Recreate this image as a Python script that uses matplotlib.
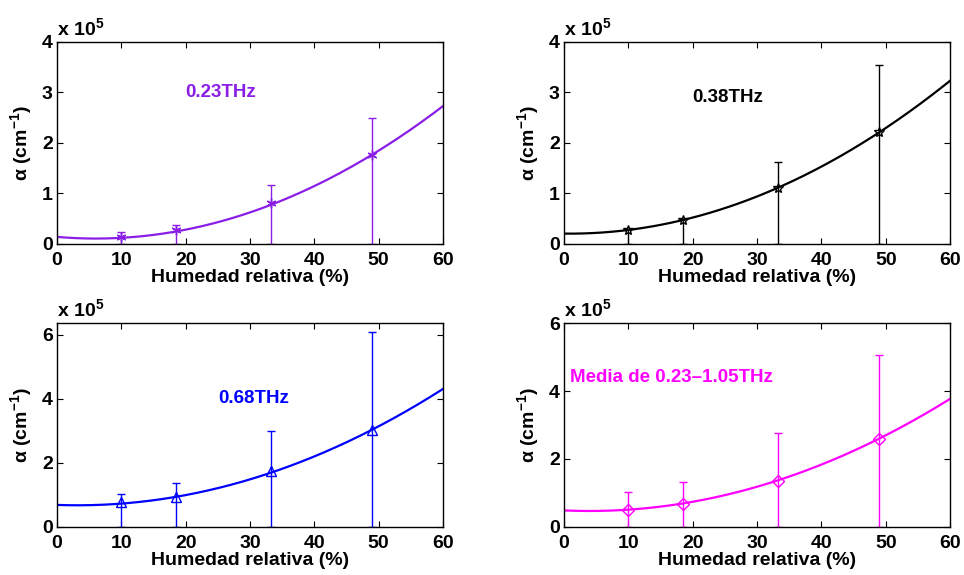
import numpy as np
from matplotlib import pyplot as plt

plt.rcParams['font.family'] = ['Liberation Sans', 'DejaVu Sans']
plt.rcParams['font.weight'] = 'bold'
plt.rcParams['mathtext.default'] = 'regular'

# humedad relativa de las medidas (%)
hr = [10, 18.5, 33.3, 49]

# coeficiente de absorcion medio (x 1e5 cm^-1) y error superior
a_023 = [0.14, 0.27, 0.81, 1.77]
e_023 = [0.09, 0.11, 0.36, 0.72]
a_038 = [0.27, 0.475, 1.10, 2.21]
e_038 = [0.02, 0.015, 0.52, 1.34]
a_068 = [0.76, 0.92, 1.74, 3.03]
e_068 = [0.26, 0.45, 1.24, 3.05]
a_med = [0.48, 0.66, 1.36, 2.60]
e_med = [0.53, 0.67, 1.40, 2.47]

# ajuste cuadratico c0 + c1*x + c2*x^2
p_023 = [0.14, -0.01085, 0.0009002]
p_038 = [0.205, -0.0014, 0.000864]
p_068 = [0.68, -0.00716, 0.001125]
p_med = [0.48, -0.00828, 0.001052]

panels = [
    (a_023, e_023, p_023, '#8a1ee6', (6, 2, 0), '0.23THz', (20, 3.0), 4, [0, 1, 2, 3, 4]),
    (a_038, e_038, p_038, 'black', '*', '0.38THz', (20, 2.9), 4, [0, 1, 2, 3, 4]),
    (a_068, e_068, p_068, '#0000ff', '^', '0.68THz', (25, 4.0), 6.35, [0, 2, 4, 6]),
    (a_med, e_med, p_med, '#ff00ff', 'D', 'Media de 0.23\u20131.05THz', (1, 4.4), 6, [0, 2, 4, 6]),
]
rects = [
    [0.0591, 0.5757, 0.4004, 0.3513],
    [0.5851, 0.5757, 0.4004, 0.3513],
    [0.0591, 0.0840, 0.4004, 0.3537],
    [0.5851, 0.0840, 0.4004, 0.3537],
]

fig = plt.figure(figsize=(9.64, 5.75), dpi=100)
xs = np.linspace(0, 60, 200)
for rect, (a, e, p, col, mk, lab, pos, ytop, yt) in zip(rects, panels):
    ax = fig.add_axes(rect)
    ax.plot(xs, np.polyval(p[::-1], xs), color=col, lw=1.6)
    ax.errorbar(hr, a, yerr=[a, e], fmt='none', ecolor=col, elinewidth=1.0, capsize=3, capthick=1.0)
    ax.plot(hr, a, ls='none', marker=mk, ms=7 if mk != 'D' else 6, mfc='none', mec=col, mew=1.0)
    ax.text(pos[0], pos[1], lab, color=col, fontsize=13.5, fontweight='bold', va='center', ha='left')
    ax.set_xlim(0, 60)
    ax.set_ylim(0, ytop)
    ax.set_xticks([0, 10, 20, 30, 40, 50, 60])
    ax.set_yticks(yt)
    ax.tick_params(direction='in', top=True, right=True, length=4, labelsize=14, pad=3)
    ax.tick_params(axis='x', pad=6)
    for t in ax.get_xticklabels() + ax.get_yticklabels():
        t.set_fontweight('bold')
    for s in ax.spines.values():
        s.set_linewidth(1.0)
    ax.set_xlabel('Humedad relativa (%)', fontsize=14, fontweight='bold', labelpad=0)
    ax.set_ylabel('\u03b1 (cm$^{-1}$)', fontsize=14, fontweight='bold', labelpad=6)
    ax.text(0, 1.015, 'x 10$^{5}$', transform=ax.transAxes, fontsize=14, fontweight='bold', va='bottom', ha='left')

fig.savefig('out.png', dpi=100)
